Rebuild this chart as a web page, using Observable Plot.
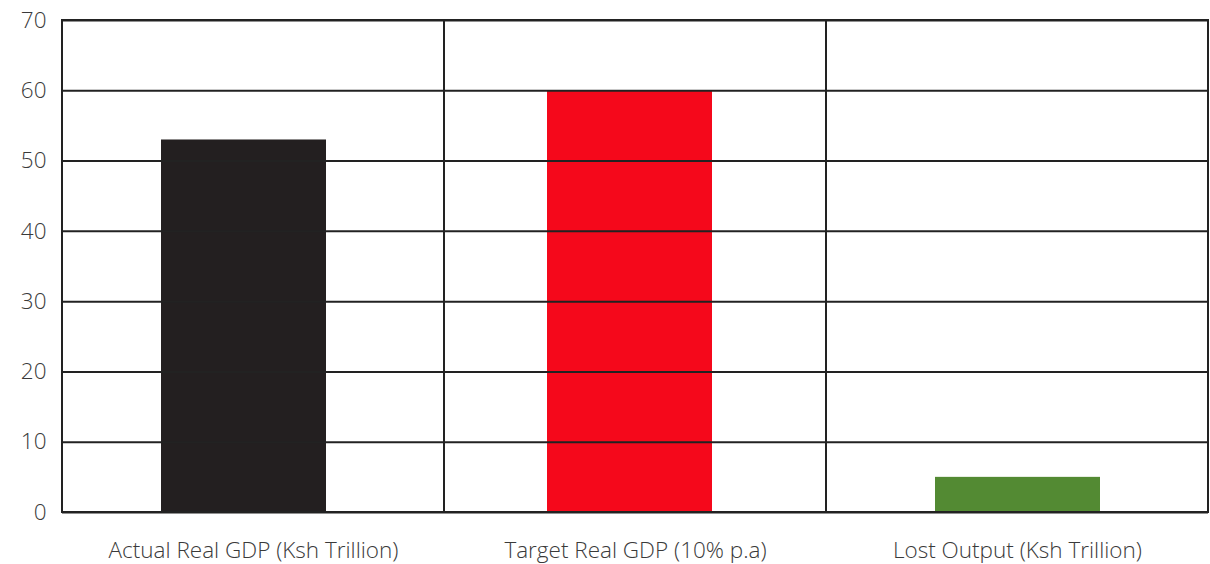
<!DOCTYPE html>
<html>
<head>
<meta charset="utf-8">
<script src="https://cdn.jsdelivr.net/npm/d3@7"></script>
<script src="https://cdn.jsdelivr.net/npm/@observablehq/plot@0.6"></script>
<style>
  html, body { margin: 0; padding: 0; background: #fff; }
  #chart svg { display: block; }
</style>
</head>
<body>
<div id="chart"></div>
<script>
const categories = ["Actual Real GDP (Ksh Trillion)", "Target Real GDP (10% p.a)", "Lost Output (Ksh Trillion)"];
const values = [53, 60, 5];
const colors = ["#231f20", "#f5081b", "#538a33"];
const yTicks = [0, 10, 20, 30, 40, 50, 60, 70];

const data = categories.map((c, i) => ({category: c, value: values[i], color: colors[i]}));

// slight per-bar offsets within each cell, as in the reference
const insetsLeft = [99, 103, 109];
const barWidth = 165, cellWidth = 382;

const chart = Plot.plot({
  width: 1210,
  height: 564,
  marginLeft: 62,
  marginRight: 2,
  marginTop: 20,
  marginBottom: 52,
  style: {fontFamily: "'Open Sans', sans-serif", fontWeight: 300, fontSize: "22.5px", color: "#3a3a3a", background: "#fff"},
  x: {domain: categories, padding: 0, label: null, tickSize: 0, tickPadding: 30},
  y: {domain: [0, 70], ticks: yTicks, label: null, tickSize: 0, tickPadding: 16},
  marks: [
    ...data.map((d, i) => Plot.barY([d], {
      x: "category", y: "value", fill: "color",
      insetLeft: insetsLeft[i], insetRight: cellWidth - barWidth - insetsLeft[i]
    })),
    Plot.ruleY(yTicks, {stroke: "#222", strokeWidth: 2}),
    Plot.barY(categories, {x: d => d, y1: 0, y2: 70, fill: "none", stroke: "#222", strokeWidth: 2}),
  ]
});
document.getElementById("chart").appendChild(chart);
</script>
</body>
</html>
